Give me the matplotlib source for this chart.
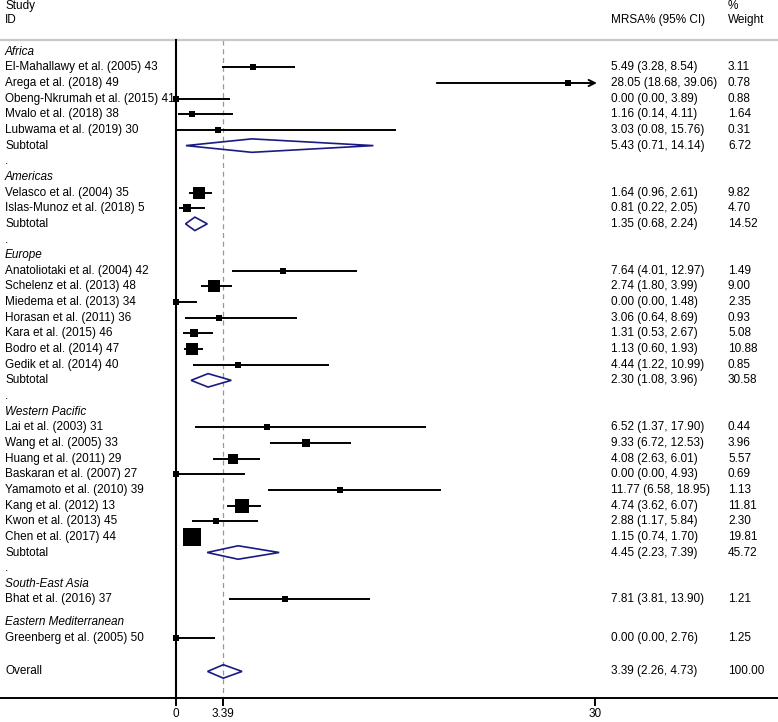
import numpy as np
import matplotlib
matplotlib.use('Agg')
import matplotlib.pyplot as plt
from matplotlib.patches import Polygon
from matplotlib import transforms

plt.rcParams['font.family'] = ['Liberation Sans', 'DejaVu Sans']
FS = 8.5

# region groups
regions = ['Africa', 'Americas', 'Europe', 'Western Pacific',
           'South-East Asia', 'Eastern Mediterranean']

study_names = [
    ['El-Mahallawy et al. (2005) 43', 'Arega et al. (2018) 49',
     'Obeng-Nkrumah et al. (2015) 41', 'Mvalo et al. (2018) 38',
     'Lubwama et al. (2019) 30'],
    ['Velasco et al. (2004) 35', 'Islas-Munoz et al. (2018) 5'],
    ['Anatoliotaki et al. (2004) 42', 'Schelenz et al. (2013) 48',
     'Miedema et al. (2013) 34', 'Horasan et al. (2011) 36',
     'Kara et al. (2015) 46', 'Bodro et al. (2014) 47',
     'Gedik et al. (2014) 40'],
    ['Lai et al. (2003) 31', 'Wang et al. (2005) 33', 'Huang et al. (2011) 29',
     'Baskaran et al. (2007) 27', 'Yamamoto et al. (2010) 39',
     'Kang et al. (2012) 13', 'Kwon et al. (2013) 45', 'Chen et al. (2017) 44'],
    ['Bhat et al. (2016) 37'],
    ['Greenberg et al. (2005) 50'],
]
est = [
    [5.49, 28.05, 0.00, 1.16, 3.03],
    [1.64, 0.81],
    [7.64, 2.74, 0.00, 3.06, 1.31, 1.13, 4.44],
    [6.52, 9.33, 4.08, 0.00, 11.77, 4.74, 2.88, 1.15],
    [7.81],
    [0.00],
]
lo = [
    [3.28, 18.68, 0.00, 0.14, 0.08],
    [0.96, 0.22],
    [4.01, 1.80, 0.00, 0.64, 0.53, 0.60, 1.22],
    [1.37, 6.72, 2.63, 0.00, 6.58, 3.62, 1.17, 0.74],
    [3.81],
    [0.00],
]
hi = [
    [8.54, 39.06, 3.89, 4.11, 15.76],
    [2.61, 2.05],
    [12.97, 3.99, 1.48, 8.69, 2.67, 1.93, 10.99],
    [17.90, 12.53, 6.01, 4.93, 18.95, 6.07, 5.84, 1.70],
    [13.90],
    [2.76],
]
weight = [
    [3.11, 0.78, 0.88, 1.64, 0.31],
    [9.82, 4.70],
    [1.49, 9.00, 2.35, 0.93, 5.08, 10.88, 0.85],
    [0.44, 3.96, 5.57, 0.69, 1.13, 11.81, 2.30, 19.81],
    [1.21],
    [1.25],
]
# subtotals (None for single-study groups)
sub_est = [5.43, 1.35, 2.30, 4.45, None, None]
sub_lo = [0.71, 0.68, 1.08, 2.23, None, None]
sub_hi = [14.14, 2.24, 3.96, 7.39, None, None]
sub_w = [6.72, 14.52, 30.58, 45.72, None, None]

overall = (3.39, 2.26, 4.73, 100.00)
xticks = [0, overall[0], 30]
xmax_plot = 30.15

W, H, DPI = 778, 722, 100
PX = 13.96         # pixels per unit
X0 = 176           # pixel of value 0
ROW = 15.65        # pixels per row
Y0 = 51.7          # pixel of first row
AX_BOT = 698       # pixel of bottom axis line

fig = plt.figure(figsize=(W / DPI, H / DPI), dpi=DPI)
ax = fig.add_axes([0, 1 - AX_BOT / H, 1, AX_BOT / H])
ax.set_xlim(-X0 / PX, (W - X0) / PX)
ax.set_ylim((AX_BOT - Y0) / ROW, -Y0 / ROW)

def r_of(pix):
    return (pix - Y0) / ROW

xf = transforms.blended_transform_factory(fig.transFigure, ax.transData)
navy = '#1a1a85'

def row_text(r, label, ci=None, w=None, italic=False):
    ax.text(5 / W, r, label, transform=xf, fontsize=FS, va='center',
            style='italic' if italic else 'normal')
    if ci is not None:
        ax.text(611 / W, r, '%.2f (%.2f, %.2f)' % ci, transform=xf,
                fontsize=FS, va='center')
        ax.text(728 / W, r, '%.2f' % w, transform=xf, fontsize=FS, va='center')

def diamond(r, e, l, h):
    d = 0.43
    ax.add_patch(Polygon([[l, r], [e, r - d], [h, r], [e, r + d]], closed=True,
                         fill=False, edgecolor=navy, lw=1.2, zorder=4))

r = 0.0
for g, reg in enumerate(regions):
    row_text(r, reg, italic=True)
    r += 1
    for i, name in enumerate(study_names[g]):
        e, l, h, w = est[g][i], lo[g][i], hi[g][i], weight[g][i]
        row_text(r, name, (e, l, h), w)
        if h > xmax_plot:
            ax.annotate('', xy=(xmax_plot, r), xytext=(l, r),
                        arrowprops=dict(arrowstyle='->', lw=1.4, color='black',
                                        mutation_scale=11, shrinkA=0, shrinkB=0),
                        zorder=3)
        else:
            ax.plot([l, h], [r, r], color='black', lw=1.4, zorder=3,
                    solid_capstyle='butt')
        side = max(5.4, 3.85 * np.sqrt(w)) * 72 / DPI
        ax.scatter([e], [r], marker='s', s=side ** 2, color='black',
                   linewidths=0, zorder=5)
        r += 1
    if sub_est[g] is not None:
        row_text(r, 'Subtotal', (sub_est[g], sub_lo[g], sub_hi[g]), sub_w[g])
        diamond(r, sub_est[g], sub_lo[g], sub_hi[g])
        r += 1
        row_text(r, '.')
        r += 1
    else:
        r += 0.45

r += 0.7
row_text(r, 'Overall', overall[:3], overall[3])
diamond(r, overall[0], overall[1], overall[2])

# headers
ax.text(5 / W, r_of(6), 'Study', transform=xf, fontsize=FS, va='center')
ax.text(5 / W, r_of(20), 'ID', transform=xf, fontsize=FS, va='center')
ax.text(611 / W, r_of(20), 'MRSA% (95% CI)', transform=xf, fontsize=FS, va='center')
ax.text(728 / W, r_of(6), '%', transform=xf, fontsize=FS, va='center')
ax.text(728 / W, r_of(20), 'Weight', transform=xf, fontsize=FS, va='center')
ax.axhline(r_of(39.5), color='#c8c8c8', lw=1.6)

# reference lines
top = r_of(40)
ax.plot([0, 0], [top, r_of(AX_BOT)], color='black', lw=1.5, zorder=2)
ax.plot([overall[0]] * 2, [top, r_of(AX_BOT)], color='#999999', lw=0.9,
        ls=(0, (4, 3)), zorder=1)

# bottom axis
for s in ['top', 'left', 'right']:
    ax.spines[s].set_visible(False)
ax.spines['bottom'].set_linewidth(1.4)
ax.set_yticks([])
ax.set_xticks(xticks)
ax.set_xticklabels(['0', '%.2f' % overall[0], '30'], fontsize=FS)
ax.tick_params(axis='x', length=6, width=1.4, pad=1.5)

fig.savefig('out.png', dpi=DPI)
